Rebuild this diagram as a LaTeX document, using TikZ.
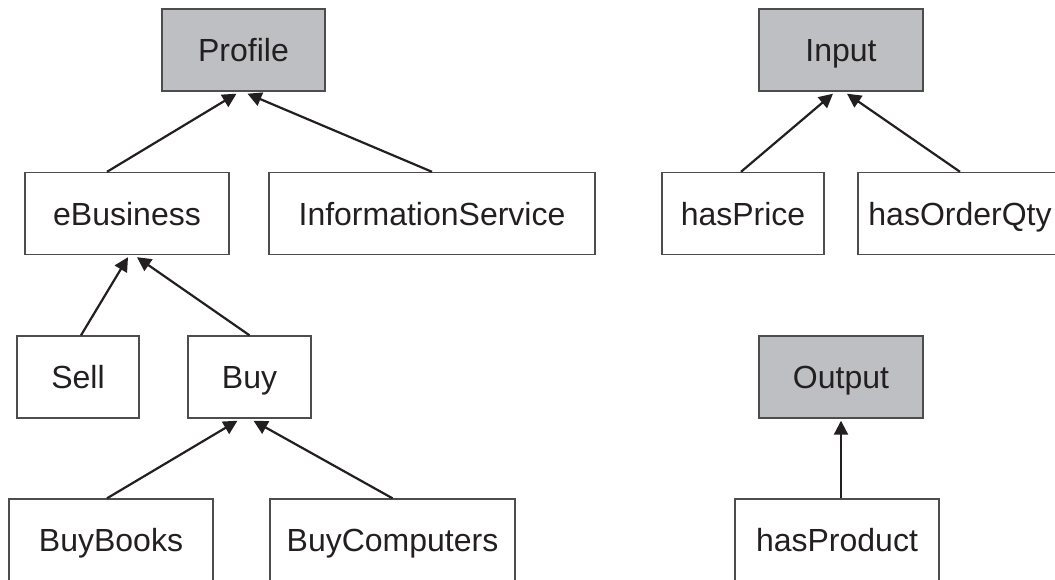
\documentclass[tikz,border=0pt]{standalone}
\usepackage{fontspec}
\setmainfont{Liberation Sans}
\usetikzlibrary{arrows.meta,calc}
\definecolor{boxgray}{RGB}{190,191,194}
\definecolor{edgegray}{RGB}{77,77,77}
\definecolor{ink}{RGB}{35,31,32}
\tikzset{
	classbox/.style={rectangle, draw=edgegray, line width=1.4pt, inner sep=0pt,
		minimum height=82pt, text height=23pt, text depth=0pt, text=ink,
		font=\fontsize{32}{38}\selectfont},
	rootbox/.style={classbox, fill=boxgray},
	isa/.style={draw=ink, line width=2.2pt, -{Triangle[length=14pt,width=14pt]}}
}

\begin{document}
\begin{tikzpicture}[x=1pt,y=-1pt]
	\useasboundingbox (0,0) rectangle (1055,579);
	
	% Profile hierarchy
	\node[rootbox, minimum width=163pt] (profile) at (243.5,50) {Profile};
	\node[classbox, minimum width=204pt] (ebusiness) at (127,213.5) {eBusiness};
	\node[classbox, minimum width=326pt] (infoservice) at (432,213.5) {InformationService};
	\node[classbox, minimum width=122pt] (sell) at (78,377) {Sell};
	\node[classbox, minimum width=123pt] (buy) at (249.5,377) {Buy};
	\node[classbox, minimum width=204pt] (buybooks) at (111,540) {BuyBooks};
	\node[classbox, minimum width=245pt] (buycomputers) at (392.5,540) {BuyComputers};
	
	% Input and Output
	\node[rootbox, minimum width=164pt] (input) at (841,50) {Input};
	\node[classbox, minimum width=162pt] (hasprice) at (743,213.5) {hasPrice};
	\node[classbox, minimum width=204pt] (hasorderqty) at (960,213.5) {hasOrderQty};
	\node[rootbox, minimum width=164pt] (output) at (841,377) {Output};
	\node[classbox, minimum width=204pt] (hasproduct) at (837,540) {hasProduct};
	
	% Subclass arrows
	\draw[isa] ([xshift=-20pt]ebusiness.north) -- ([xshift=-7pt,yshift=-2pt]profile.south);
	\draw[isa] (infoservice.north) -- ([xshift=4pt,yshift=-2pt]profile.south);
	\draw[isa] ([xshift=3pt]sell.north) -- ([xshift=1pt,yshift=-2pt]ebusiness.south);
	\draw[isa] (buy.north) -- ([xshift=10pt,yshift=-2pt]ebusiness.south);
	\draw[isa] ([xshift=-4pt]buybooks.north) -- ([xshift=-12pt,yshift=-2pt]buy.south);
	\draw[isa] (buycomputers.north) -- ([xshift=4pt,yshift=-2pt]buy.south);
	\draw[isa] ([xshift=-2pt]hasprice.north) -- ([xshift=-8pt,yshift=-2pt]input.south);
	\draw[isa] (hasorderqty.north) -- ([xshift=6pt,yshift=-2pt]input.south);
	\draw[isa] ([xshift=4pt]hasproduct.north) -- ([yshift=-2pt]output.south);
\end{tikzpicture}
\end{document}
